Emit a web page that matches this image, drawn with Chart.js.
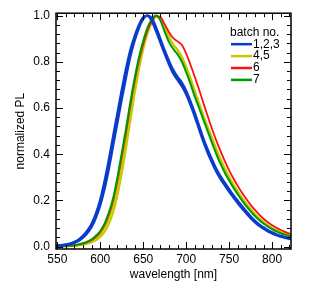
<!DOCTYPE html>
<html>
<head>
<meta charset="utf-8">
<script src="https://cdn.jsdelivr.net/npm/chart.js@4.4.1/dist/chart.umd.min.js"></script>
<style>
html,body{margin:0;padding:0;background:#fff;}
canvas{display:block;}
</style>
</head>
<body>
<canvas id="c" width="317" height="289"></canvas>
<script>
// wavelength grid [nm]
const wavelengths = [545,550,555,560,565,570,575,580,585,590,595,600,605,610,615,620,625,630,635,640,645,650,655,660,665,670,675,680,685,690,695,700,705,710,715,720,725,730,735,740,745,750,755,760,765,770,775,780,785,790,795,800,805,810,815,820,825];

// batch 1,2,3 (blue)
const batch1 = [0.003,0.004,0.006,0.008,0.012,0.018,0.028,0.043,0.063,0.092,0.135,0.19,0.265,0.355,0.455,0.555,0.655,0.75,0.835,0.9,0.952,0.988,1.0,0.982,0.94,0.89,0.84,0.795,0.755,0.727,0.70,0.665,0.62,0.57,0.515,0.46,0.413,0.37,0.33,0.298,0.27,0.243,0.217,0.193,0.17,0.148,0.127,0.108,0.093,0.08,0.069,0.059,0.052,0.045,0.04,0.035,0.031];
const batch2 = [0.002,0.003,0.005,0.007,0.010,0.016,0.025,0.039,0.058,0.085,0.125,0.177,0.248,0.335,0.435,0.535,0.635,0.73,0.82,0.89,0.945,0.984,1.0,0.99,0.95,0.9,0.85,0.805,0.765,0.735,0.71,0.675,0.63,0.58,0.525,0.47,0.422,0.378,0.338,0.305,0.277,0.25,0.223,0.199,0.176,0.153,0.132,0.113,0.097,0.084,0.072,0.062,0.054,0.047,0.042,0.037,0.033];
const batch3 = [0.004,0.005,0.007,0.010,0.014,0.021,0.032,0.048,0.07,0.1,0.145,0.205,0.285,0.378,0.48,0.58,0.68,0.772,0.852,0.912,0.96,0.993,0.998,0.975,0.93,0.882,0.833,0.788,0.748,0.72,0.693,0.658,0.612,0.562,0.507,0.453,0.405,0.363,0.324,0.292,0.264,0.237,0.212,0.188,0.165,0.144,0.123,0.105,0.09,0.077,0.066,0.057,0.05,0.043,0.038,0.034,0.03];
// batch 4,5 (yellow)
const batch4 = [0.001,0.001,0.002,0.002,0.003,0.005,0.007,0.011,0.016,0.024,0.036,0.053,0.08,0.12,0.176,0.255,0.355,0.46,0.58,0.69,0.79,0.87,0.932,0.976,0.998,0.985,0.945,0.905,0.872,0.85,0.818,0.775,0.725,0.67,0.617,0.565,0.515,0.467,0.42,0.375,0.336,0.3,0.268,0.238,0.21,0.184,0.161,0.14,0.121,0.105,0.092,0.08,0.07,0.062,0.055,0.049,0.045];
const batch5 = [0.001,0.001,0.001,0.002,0.003,0.004,0.006,0.009,0.013,0.019,0.028,0.042,0.064,0.098,0.148,0.22,0.315,0.425,0.545,0.66,0.765,0.852,0.92,0.968,0.995,0.99,0.952,0.91,0.876,0.853,0.822,0.78,0.73,0.675,0.622,0.57,0.52,0.472,0.425,0.38,0.34,0.303,0.27,0.24,0.212,0.186,0.163,0.142,0.123,0.107,0.093,0.081,0.071,0.063,0.056,0.05,0.046];
// batch 6 (red)
const batch6 = [0.001,0.002,0.002,0.003,0.004,0.006,0.009,0.013,0.02,0.029,0.043,0.063,0.093,0.138,0.2,0.287,0.39,0.495,0.61,0.715,0.805,0.877,0.935,0.975,0.997,0.993,0.962,0.928,0.902,0.888,0.872,0.835,0.787,0.735,0.68,0.622,0.565,0.51,0.46,0.413,0.37,0.33,0.295,0.263,0.233,0.206,0.181,0.159,0.139,0.121,0.106,0.093,0.082,0.072,0.064,0.057,0.052];
// batch 7 (green)
const batch7 = [0.001,0.002,0.002,0.003,0.005,0.007,0.01,0.015,0.022,0.032,0.047,0.068,0.1,0.148,0.21,0.3,0.405,0.51,0.625,0.728,0.818,0.89,0.948,0.985,1.0,0.978,0.93,0.885,0.855,0.832,0.80,0.755,0.705,0.65,0.6,0.55,0.5,0.45,0.402,0.358,0.32,0.286,0.255,0.227,0.2,0.175,0.153,0.133,0.115,0.1,0.087,0.076,0.066,0.058,0.052,0.046,0.042];

const xTicks = [550,600,650,700,750,800];
const yTicks = [0.0,0.2,0.4,0.6,0.8,1.0];
const legendTitle = 'batch no.';
const legendLabels = ['1,2,3','4,5','6','7'];

const BLUE = '#0a3ccc', YELLOW = '#c8c800', RED = '#ff1010', GREEN = '#009a00';
const FONT = "'Liberation Sans', Arial, Helvetica, sans-serif";

function pts(arr){ return wavelengths.map((w,i)=>({x:w,y:arr[i]})); }
function ds(arr,color,w){ return {data:pts(arr),borderColor:color,borderWidth:w,pointRadius:0,fill:false,cubicInterpolationMode:'monotone'}; }

const legendColors = [BLUE,YELLOW,RED,GREEN];

const framePlugin = {
  id:'frame',
  afterDraw(chart){
    const {ctx, chartArea:a, scales:{x,y}} = chart;
    ctx.save();
    ctx.strokeStyle = '#000';
    ctx.lineWidth = 1;
    ctx.beginPath();
    // x ticks (minor every 10, major every 50)
    for(let v = Math.ceil(x.min/10)*10; v <= x.max; v += 10){
      const px = Math.round(x.getPixelForValue(v)) + 0.5;
      const len = (v % 50 === 0) ? 7 : 4;
      ctx.moveTo(px, a.bottom); ctx.lineTo(px, a.bottom - len);
      ctx.moveTo(px, a.top); ctx.lineTo(px, a.top + len);
    }
    // y ticks (minor every 0.04, major every 0.2)
    for(let k = 0; k <= 25; k++){
      const v = k*0.04;
      const py = Math.round(y.getPixelForValue(v)) + 0.5;
      const len = (k % 5 === 0) ? 7 : 4;
      ctx.moveTo(a.left, py); ctx.lineTo(a.left + len, py);
      ctx.moveTo(a.right, py); ctx.lineTo(a.right - len, py);
    }
    ctx.stroke();
    ctx.lineWidth = 1.5;
    ctx.strokeRect(a.left, a.top, a.right - a.left, a.bottom - a.top);

    // legend
    ctx.font = '12px ' + FONT;
    ctx.fillStyle = '#000';
    ctx.textBaseline = 'middle';
    ctx.textAlign = 'left';
    const lx = a.right - 60;
    ctx.fillText(legendTitle, lx - 1, a.top + 19);
    legendLabels.forEach((t,i)=>{
      const ly = a.top + 31 + i*11.9;
      ctx.strokeStyle = legendColors[i];
      ctx.lineWidth = 2.5;
      ctx.beginPath(); ctx.moveTo(lx, ly); ctx.lineTo(lx + 21, ly); ctx.stroke();
      ctx.fillText(t, lx + 22, ly);
    });
    ctx.restore();
  }
};

new Chart(document.getElementById('c'), {
  type:'line',
  data:{ datasets:[
    ds(batch1,BLUE,2.2), ds(batch2,BLUE,2.2), ds(batch3,BLUE,2.2),
    ds(batch7,GREEN,2), ds(batch6,RED,1.8),
    ds(batch4,YELLOW,2), ds(batch5,YELLOW,2)
  ]},
  options:{
    responsive:false,
    animation:false,
    events:[],
    layout:{padding:{top:12,right:26,left:0,bottom:0}},
    plugins:{legend:{display:false},tooltip:{enabled:false}},
    scales:{
      x:{
        type:'linear', min:548.5, max:822,
        afterFit(s){ s.height = 40; },
        afterBuildTicks(s){ s.ticks = xTicks.map(v=>({value:v})); },
        grid:{display:false, drawTicks:false},
        border:{display:false},
        ticks:{color:'#000', font:{size:12, family:FONT}, padding:3, maxRotation:0, autoSkip:false},
        title:{display:true, text:'wavelength [nm]', color:'#000', font:{size:12, family:FONT}, padding:{top:0,bottom:7}}
      },
      y:{
        type:'linear', min:-0.01, max:1.01,
        afterFit(s){ s.width = 56; },
        afterBuildTicks(s){ s.ticks = yTicks.map(v=>({value:v})); },
        grid:{display:false, drawTicks:false},
        border:{display:false},
        ticks:{color:'#000', font:{size:12, family:FONT}, padding:6, autoSkip:false, callback:(v)=>Number(v).toFixed(1)},
        title:{display:true, text:'normalized PL', color:'#000', font:{size:12, family:FONT}, padding:{top:13,bottom:0}}
      }
    }
  },
  plugins:[framePlugin]
});
</script>
</body>
</html>
